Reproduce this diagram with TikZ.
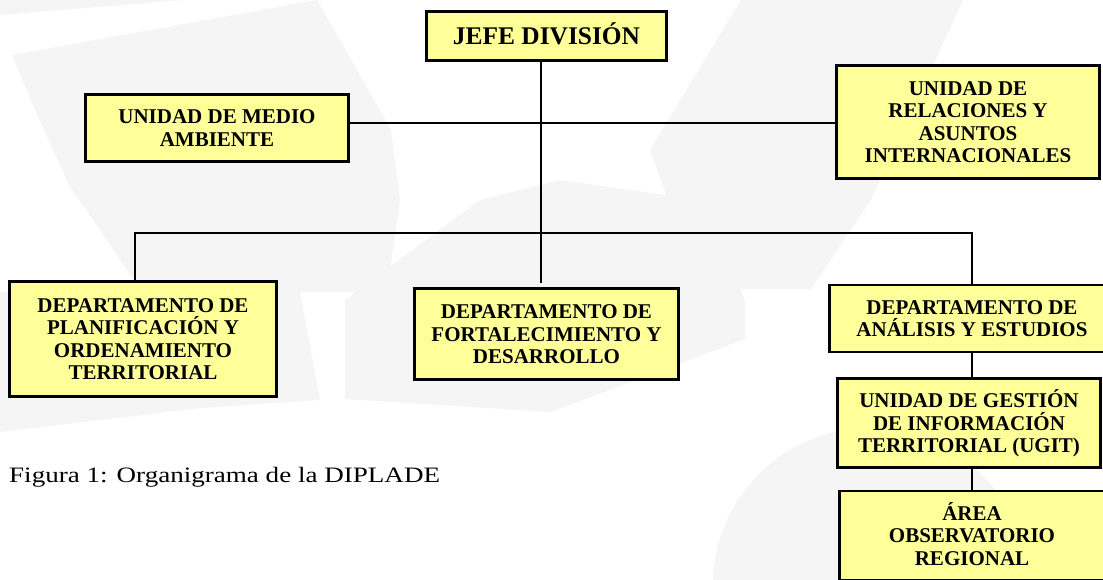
\documentclass[tikz,border=0pt]{standalone}
\usepackage{fontspec}
\setmainfont{Liberation Serif}
\definecolor{boxfill}{RGB}{255,255,153}
\definecolor{wm}{RGB}{245,245,245}
\begin{document}
\begin{tikzpicture}[x=1pt,y=-1pt,
  box/.style={draw=black, line width=2.6pt, fill=boxfill, align=center,
    inner sep=0pt, font=\bfseries\fontsize{21}{22.5}\selectfont, text depth=0pt},
  one/.style={text height=14pt},
  two/.style={text height=36.5pt},
  three/.style={text height=59pt},
  four/.style={text height=81.5pt},
  link/.style={line width=2pt, line cap=rect},
  wmark/.style={fill=wm, draw=none}]
\useasboundingbox (0,0) rectangle (1103,579);
% faint watermark
\fill[wmark] (0,0) -- (183,0) -- (0,15) -- cycle;
\fill[wmark] (12,55) -- (317,0) -- (391,130) -- (400,200) -- (387,292) -- (141,292)
  -- (116,253) -- (70,187) -- (35,110) -- cycle;
\fill[wmark] (0,292) -- (300,292) -- (320,400) -- (200,408) -- (100,420) -- (0,432) -- cycle;
\fill[wmark] (345,300) -- (480,200) -- (560,180) -- (700,200) -- (745,300) -- (745,339)
  -- (551,412) -- (345,399) -- cycle;
\fill[wmark] (741,0) -- (963,0) -- (871,200) -- (811,289) -- (700,289) -- (650,150) -- cycle;
\fill[wmark] (870,585) circle[radius=157];
% boxes
\node[box, minimum width=240, minimum height=49,
  font=\bfseries\fontsize{25.4}{27}\selectfont, text height=17pt]
  (jefe) at (546.5,36) {JEFE DIVISIÓN};
\node[box, two, minimum width=263, minimum height=67]
  (medio) at (217,128) {UNIDAD DE MEDIO\\AMBIENTE};
\node[box, four, minimum width=263, minimum height=113]
  (relac) at (968,122) {UNIDAD DE\\RELACIONES Y\\ASUNTOS\\INTERNACIONALES};
\node[box, four, minimum width=267, minimum height=115]
  (plan) at (143,339) {DEPARTAMENTO DE\\PLANIFICACIÓN Y\\ORDENAMIENTO\\TERRITORIAL};
\node[box, three, minimum width=264, minimum height=91]
  (fort) at (546.5,334) {DEPARTAMENTO DE\\FORTALECIMIENTO Y\\DESARROLLO};
\node[box, two, minimum width=285, minimum height=67]
  (anal) at (972,318.5) {DEPARTAMENTO DE\\ANÁLISIS Y ESTUDIOS};
\node[box, three, minimum width=263, minimum height=89]
  (ugit) at (969,423) {UNIDAD DE GESTIÓN\\DE INFORMACIÓN\\TERRITORIAL (UGIT)};
\node[box, three, minimum width=265, minimum height=89]
  (area) at (972,535.5) {ÁREA\\OBSERVATORIO\\REGIONAL};
% caption
\node[anchor=base west, inner sep=0pt, font=\fontsize{22}{26}\selectfont]
  (cap) at (9,482) {\scalebox{1.23}[1]{Figura 1: Organigrama de la DIPLADE}};
% connectors
\coordinate (stem) at (541,282);
\coordinate (ylev) at (0,123);
\coordinate (busL) at (135,233);
\coordinate (busR) at (972,233);
\draw[link] (jefe.south -| stem) -- (stem);
\draw[link] (medio.east |- ylev) -- (relac.west |- ylev);
\draw[link] (busL) -- (busR);
\draw[link] (busL) -- (plan.north -| busL);
\draw[link] (busR) -- (anal.north);
\draw[link] (anal.south) -- (ugit.north -| anal.south);
\draw[link] (ugit.south -| anal.south) -- (area.north);
\end{tikzpicture}
\end{document}
